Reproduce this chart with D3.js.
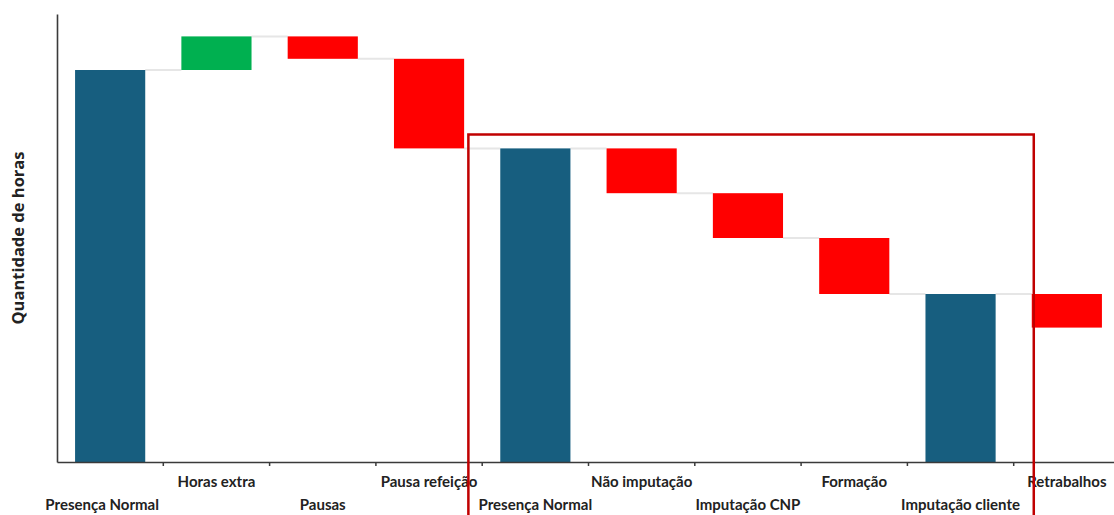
<!DOCTYPE html>
<html>
<head>
<meta charset="utf-8">
<script src="https://cdn.jsdelivr.net/npm/d3@7"></script>
<style>
  html, body { margin: 0; padding: 0; background: #fff; }
  svg { display: block; }
  .cat-label { font-family: Lato, "Open Sans", sans-serif; font-weight: 700; font-size: 15px; fill: #222; }
  .y-title { font-family: "Open Sans", Lato, sans-serif; font-weight: 700; font-size: 16.5px; fill: #222; }
</style>
</head>
<body>
<svg id="chart" width="1114" height="515"></svg>
<script>
// Categories of the hours waterfall
const categories = [
  "Presença Normal", "Horas extra", "Pausas", "Pausa refeição",
  "Presença Normal", "Não imputação", "Imputação CNP", "Formação",
  "Imputação cliente", "Retrabalhos"
];
// Change in hours (totals are marked separately)
const values = [175, 15, -10, -40, 140, -20, -20, -25, 75, -15];
const isTotal = [true, false, false, false, true, false, false, false, true, false];

const width = 1114, height = 515;
const margin = { left: 57, right: -6, top: 14, bottom: 53 };

const svg = d3.select("#chart");

const x = d3.scaleBand()
  .domain(d3.range(categories.length))
  .range([margin.left, width - margin.right])
  .paddingInner(0.34)
  .paddingOuter(0.17);

const y = d3.scaleLinear()
  .domain([0, 200])
  .range([height - margin.bottom, margin.top]);

// Compute start/end levels for each step
let running = 0;
const steps = values.map((v, i) => {
  let start, end;
  if (isTotal[i]) { start = 0; end = v; running = v; }
  else { start = running; end = running + v; running = end; }
  return { i, v, start, end, total: isTotal[i] };
});

const colorFor = d => d.total ? "#175e7f" : (d.v >= 0 ? "#00b050" : "#ff0000");

// Connector lines between consecutive bars
const connectors = steps.slice(0, -1).map((d, k) => ({
  x1: x(d.i) + x.bandwidth(), x2: x(steps[k + 1].i), level: d.end
}));
svg.append("g").selectAll("line").data(connectors).join("line")
  .attr("x1", d => d.x1).attr("x2", d => d.x2)
  .attr("y1", d => y(d.level)).attr("y2", d => y(d.level))
  .attr("stroke", "#e6e6e6").attr("stroke-width", 2);

// Bars
svg.append("g").selectAll("rect").data(steps).join("rect")
  .attr("x", d => x(d.i))
  .attr("width", x.bandwidth())
  .attr("y", d => y(Math.max(d.start, d.end)))
  .attr("height", d => Math.abs(y(d.start) - y(d.end)))
  .attr("fill", colorFor);

// Axes
const xAxis = d3.axisBottom(x).tickSize(0).tickFormat(() => "");
const gx = svg.append("g").attr("transform", `translate(0,${y(0)})`).call(xAxis);
gx.select(".domain").attr("stroke", "#3a3a3a").attr("stroke-width", 1.6);
// tick marks at category boundaries
const bounds = d3.range(1, categories.length).map(i => x(i) - x.step() * x.paddingInner() / 2);
gx.selectAll(".bound").data(bounds).join("line").attr("class", "bound")
  .attr("x1", d => d).attr("x2", d => d).attr("y1", 0).attr("y2", 4)
  .attr("stroke", "#3a3a3a").attr("stroke-width", 1.5);

const gy = svg.append("g").attr("transform", `translate(${margin.left},0)`)
  .call(d3.axisLeft(y).tickValues([]).tickSize(0));
gy.select(".domain").attr("stroke", "#3a3a3a").attr("stroke-width", 1.6);

// Category labels, staggered over two rows
svg.append("g").selectAll("text").data(categories).join("text")
  .attr("class", "cat-label")
  .attr("x", (d, i) => x(i) + x.bandwidth() / 2 - (i === 0 ? 8 : 0))
  .attr("y", (d, i) => i % 2 === 0 ? y(0) + 48 : y(0) + 25)
  .attr("text-anchor", "middle")
  .text(d => d);

// Y axis title
svg.append("text").attr("class", "y-title")
  .attr("transform", `translate(24,${(y(0) + margin.top) / 2}) rotate(-90)`)
  .attr("text-anchor", "middle")
  .text("Quantidade de horas");

// Highlight frame around the second half of the breakdown
const frameLeft = x(4) - x.step() * 0.3;
const frameRight = x(9) + 2;
const frameTop = y(values[4]) - 14;
svg.append("path")
  .attr("d", `M${frameLeft},${height + 5} V${frameTop} H${frameRight} V${height + 5}`)
  .attr("fill", "none").attr("stroke", "#c00000").attr("stroke-width", 2.5);
</script>
</body>
</html>
